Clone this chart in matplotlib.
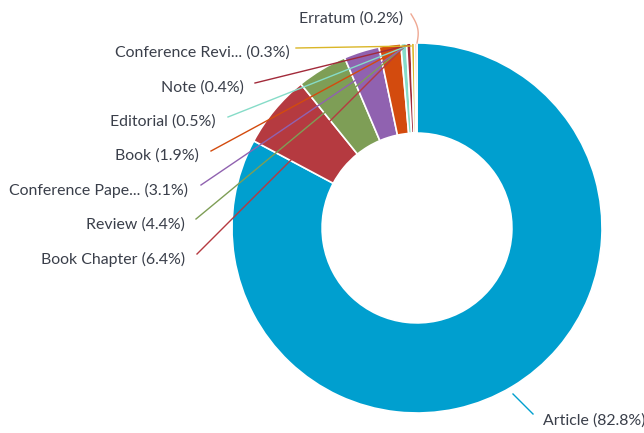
import matplotlib.pyplot as plt
import numpy as np

# document types and their share (%)
doc_types = ["Article", "Book Chapter", "Review", "Conference Paper", "Book",
             "Editorial", "Note", "Conference Review", "Erratum"]
shares = [82.8, 6.4, 4.4, 3.1, 1.9, 0.5, 0.4, 0.3, 0.2]
short_names = ["Article", "Book Chapter", "Review", "Conference Pape...", "Book",
               "Editorial", "Note", "Conference Revi...", "Erratum"]
colors = ["#009FCF", "#B53A40", "#7E9E56", "#9062B0", "#D34B0E",
          "#86DCC8", "#A22A3A", "#DAB628", "#EFA893"]

W, H = 644, 433
cx, cy, R = 417, 228, 185


def px(x, y):
    # pixel position -> data units (pie radius = 1)
    return (x - cx) / R, (cy - y) / R


fig = plt.figure(figsize=(W / 100, H / 100), dpi=100)
ax = fig.add_axes([0, 0, 1, 1])

ax.pie(shares, colors=colors, startangle=90, counterclock=False, radius=1,
       wedgeprops=dict(width=0.487, edgecolor="white", linewidth=1.2))

ax.set_xlim(-cx / R, (W - cx) / R)
ax.set_ylim(-(H - cy) / R, cy / R)
ax.set_aspect("auto")
ax.axis("off")

# label anchors (pixel layout): text x, text y, line start, line end
layout = {
    "Article": ((543, 421, "left"), (533, 414), (513, 394)),
    "Book Chapter": ((185, 259, "right"), (197, 254), (404, 47)),
    "Review": ((185, 225, "right"), (196, 219), (405, 46)),
    "Conference Paper": ((188, 190, "right"), (201, 185), (406, 46)),
    "Book": ((199, 156, "right"), (211, 151), (405, 46)),
    "Editorial": ((216, 122, "right"), (228, 117), (407, 46)),
    "Note": ((244, 88, "right"), (255, 83), (409, 45)),
    "Conference Review": ((290, 53, "right"), (296, 48), (411, 46)),
    "Erratum": ((403, 19, "right"), (411, 14), (417, 43)),
}

for name, short, val, col in zip(doc_types, short_names, shares, colors):
    (tx, ty, ha), (sx, sy), (ex, ey) = layout[name]
    x0, y0 = px(sx, sy)
    x1, y1 = px(ex, ey)
    if name == "Erratum":
        # curved connector
        t = np.linspace(0, 1, 20)
        xs = x0 + (x1 - x0) * t + 0.02 * np.sin(np.pi * t)
        ys = y0 + (y1 - y0) * t
        ax.plot(xs, ys, color=col, lw=1)
    else:
        ax.plot([x0, x1], [y0, y1], color=col, lw=1)
    lx, ly = px(tx, ty)
    ax.text(lx, ly, f"{short} ({val}%)", ha=ha, va="center",
            fontsize=11.4, family="Lato", color="#3a3f4a")

fig.savefig("out.png", dpi=100)
